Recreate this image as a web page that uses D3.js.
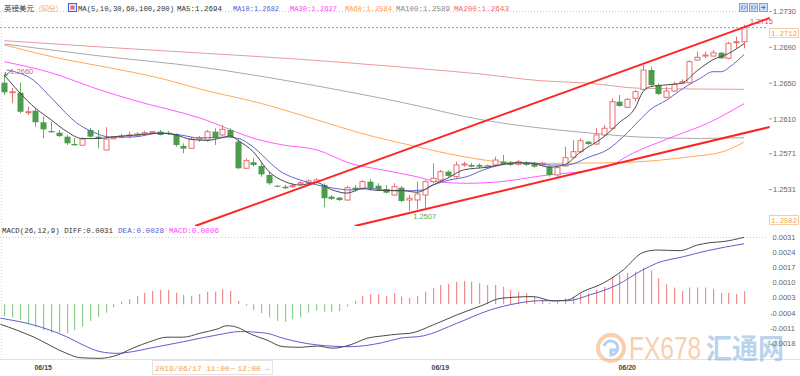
<!DOCTYPE html>
<html>
<head>
<meta charset="utf-8">
<script src="https://cdn.jsdelivr.net/npm/d3@7"></script>
<style>
  body { margin: 0; background: #fff; }
  svg { display: block; }
  .mono { font-family: "Liberation Mono", "DejaVu Sans Mono", monospace; font-size: 7.8px; }
  .axis { font-family: "Liberation Sans", Arial, sans-serif; font-size: 7.5px; fill: #666; }
</style>
</head>
<body>
<svg id="chart" width="800" height="376"></svg>
<script>
// hourly candles GBP/USD, [open, high, low, close]
const ohlc = [
  [1.26504,1.26601,1.26367,1.26397],[1.26397,1.26445,1.26277,1.26403],[1.26392,1.26504,1.26162,1.26180],
  [1.26173,1.26236,1.26143,1.26180],[1.26191,1.26221,1.26013,1.26062],[1.26062,1.26124,1.25883,1.25983],
  [1.25964,1.26069,1.25948,1.25950],[1.25945,1.25976,1.25897,1.25908],[1.25901,1.25920,1.25808,1.25827],
  [1.25819,1.25886,1.25800,1.25805],[1.25805,1.25894,1.25803,1.25875],[1.25976,1.26001,1.25894,1.25901],
  [1.25901,1.25976,1.25771,1.25875],[1.25752,1.26006,1.25750,1.25875],[1.25878,1.25905,1.25870,1.25894],
  [1.25894,1.25931,1.25883,1.25908],[1.25908,1.25957,1.25883,1.25920],[1.25917,1.25950,1.25901,1.25931],
  [1.25931,1.25964,1.25920,1.25945],[1.25945,1.25964,1.25940,1.25957],[1.25957,1.25976,1.25915,1.25920],
  [1.25945,1.25964,1.25920,1.25931],[1.25931,1.25939,1.25789,1.25808],[1.25797,1.25827,1.25715,1.25767],
  [1.25771,1.25897,1.25764,1.25875],[1.25872,1.25908,1.25845,1.25889],[1.25864,1.25976,1.25845,1.25957],
  [1.25957,1.25995,1.25808,1.25883],[1.25920,1.26031,1.25908,1.25983],[1.25976,1.25995,1.25894,1.25901],
  [1.25845,1.25872,1.25537,1.25548],[1.25548,1.25660,1.25540,1.25633],[1.25615,1.25660,1.25566,1.25585],
  [1.25573,1.25603,1.25454,1.25480],[1.25473,1.25510,1.25361,1.25380],[1.25353,1.25360,1.25335,1.25342],
  [1.25342,1.25361,1.25317,1.25324],[1.25342,1.25380,1.25331,1.25353],[1.25372,1.25405,1.25353,1.25386],
  [1.25386,1.25425,1.25380,1.25406],[1.25395,1.25436,1.25380,1.25417],[1.25361,1.25380,1.25112,1.25213],
  [1.25231,1.25249,1.25193,1.25205],[1.25220,1.25227,1.25182,1.25193],[1.25193,1.25353,1.25185,1.25331],
  [1.25331,1.25361,1.25286,1.25305],[1.25324,1.25417,1.25305,1.25398],[1.25398,1.25425,1.25297,1.25324],
  [1.25353,1.25380,1.25297,1.25316],[1.25316,1.25361,1.25268,1.25275],[1.25249,1.25380,1.25238,1.25342],
  [1.25331,1.25350,1.25168,1.25182],[1.25193,1.25249,1.25071,1.25213],[1.25193,1.25398,1.25090,1.25260],
  [1.25249,1.25417,1.25104,1.25398],[1.25398,1.25603,1.25380,1.25436],[1.25417,1.25529,1.25398,1.25510],
  [1.25510,1.25521,1.25451,1.25462],[1.25454,1.25621,1.25436,1.25585],[1.25585,1.25621,1.25566,1.25596],
  [1.25585,1.25607,1.25559,1.25566],[1.25585,1.25603,1.25548,1.25566],[1.25559,1.25590,1.25550,1.25577],
  [1.25585,1.25677,1.25566,1.25640],[1.25621,1.25696,1.25585,1.25596],[1.25610,1.25629,1.25573,1.25585],
  [1.25592,1.25640,1.25580,1.25621],[1.25610,1.25625,1.25575,1.25585],[1.25603,1.25620,1.25555,1.25566],
  [1.25585,1.25620,1.25575,1.25603],[1.25566,1.25585,1.25454,1.25473],[1.25473,1.25566,1.25454,1.25555],
  [1.25573,1.25789,1.25566,1.25666],[1.25670,1.25864,1.25662,1.25733],[1.25733,1.25883,1.25715,1.25856],
  [1.25845,1.25853,1.25808,1.25819],[1.25819,1.25995,1.25808,1.25920],[1.25920,1.26031,1.25901,1.25995],
  [1.25995,1.26330,1.25976,1.26292],[1.26292,1.26367,1.26236,1.26244],[1.26229,1.26330,1.26218,1.26318],
  [1.26330,1.26422,1.26292,1.26404],[1.26430,1.26702,1.26422,1.26646],[1.26646,1.26683,1.26459,1.26478],
  [1.26478,1.26497,1.26367,1.26378],[1.26341,1.26459,1.26330,1.26411],[1.26411,1.26515,1.26403,1.26486],
  [1.26497,1.26542,1.26486,1.26515],[1.26504,1.26758,1.26497,1.26739],[1.26758,1.26850,1.26755,1.26788],
  [1.26802,1.26850,1.26777,1.26814],[1.26802,1.26870,1.26795,1.26839],[1.26839,1.26847,1.26772,1.26777],
  [1.26777,1.26962,1.26765,1.26944],[1.26951,1.27018,1.26888,1.26962],[1.26962,1.27150,1.26888,1.27120]
];

// moving averages, [candle index, price]
const ma5 = [[0,1.2659],[2,1.2639],[4,1.2622],[6,1.2609],[8,1.2596],[10,1.2588],[12,1.2588],[14,1.2590],
  [17,1.2592],[20,1.2594],[22,1.2592],[24,1.2587],[26,1.2586],[28,1.2589],[29,1.2591],[30,1.2586],[32,1.2573],
  [34,1.2551],[36,1.2540],[38,1.2536],[40,1.2539],[42,1.2531],[44,1.2527],[46,1.2532],[48,1.2530],[51,1.2530],
  [53,1.2528],[55,1.2536],[57,1.2544],[59,1.2553],[62,1.2556],[64,1.2559],[66,1.2561],[68,1.2560],[70,1.2556],
  [72,1.2559],[74,1.2573],[77,1.2590],[79,1.2606],[81,1.2622],[82,1.2640],[83,1.2646],[85,1.2648],[87,1.2650],
  [89,1.2664],[91,1.2676],[93,1.2683],[95,1.2694]];
const ma10 = [[0.3,1.26646],[3.7,1.26535],[6.3,1.26311],[9.3,1.26054],[11.4,1.25953],[13.6,1.25897],[16.5,1.25897],
  [20,1.25942],[22.6,1.25920],[25.1,1.25886],[28.6,1.25897],[30.3,1.25875],[31.6,1.25808],[35.8,1.25495],
  [38,1.25417],[40.2,1.25361],[42.2,1.25327],[44.4,1.25305],[46.6,1.25327],[48.6,1.25305],[50.8,1.25294],
  [53.8,1.25305],[55.1,1.25361],[57.2,1.25417],[59.4,1.25454],[61.5,1.25529],[63.7,1.25584],[65.9,1.25607],
  [67.9,1.25607],[70.1,1.25584],[72.2,1.25584],[75.2,1.25677],[77.4,1.25752],[79.5,1.25901],[81.6,1.26087],
  [82.9,1.26199],[85.1,1.26311],[87.2,1.26442],[89.4,1.26554],[91,1.26627],[92.1,1.26627],[93.2,1.26683],[95,1.26820]];
const ma30 = [[0,1.26739],[5.9,1.26618],[12.3,1.26423],[16.5,1.26311],[25.1,1.26110],[32.8,1.25864],[35.8,1.25808],
  [40.2,1.25752],[44.4,1.25603],[48.6,1.25529],[53,1.25453],[55.6,1.25398],[59.4,1.25380],[63.7,1.25398],
  [68.8,1.25461],[77.4,1.25565],[80.7,1.25715],[85.9,1.25901],[90.3,1.26050],[95,1.26270]];
const ma60 = [[0,1.26926],[8.1,1.26758],[12.3,1.26691],[20.9,1.26535],[25.1,1.26434],[32.8,1.26277],[40.2,1.26087],
  [45.7,1.25942],[53,1.25789],[58.5,1.25685],[63.7,1.25621],[70.1,1.25603],[76.5,1.25607],[81.6,1.25621],
  [88.1,1.25677],[92.3,1.25733],[95,1.25840]];
const ma100 = [[0,1.26937],[12.3,1.26803],[25.1,1.26680],[38,1.26501],[50.8,1.26289],[61.5,1.26087],[68.8,1.25998],
  [75.2,1.25942],[81.6,1.25897],[89.4,1.25881],[95,1.25890]];
const ma200 = [[0,1.26974],[12.3,1.26904],[25.1,1.26836],[38,1.26766],[50.8,1.26680],[61.1,1.26602],[68.8,1.26527],
  [75.2,1.26498],[81.6,1.26442],[95,1.26430]];

// hand drawn channel lines, [candle index, price]
const trendUpper = [[24.5,1.24902],[98.3,1.27228]];
const trendLower = [[45.0,1.24902],[98.3,1.26009]];

// MACD(26,12,9)
const macdHist = [-0.00055,-0.00061,-0.00073,-0.00089,-0.00104,-0.00120,-0.00132,-0.00132,-0.00135,-0.00120,
  -0.00104,-0.00077,-0.00058,-0.00039,-0.00014,0.00012,0.00023,0.00038,0.00053,0.00061,
  0.00066,0.00066,0.00053,0.00043,0.00038,0.00047,0.00058,0.00058,0.00069,0.00061,
  0.00015,-0.00008,-0.00027,-0.00042,-0.00061,-0.00077,-0.00081,-0.00070,-0.00061,-0.00039,
  -0.00030,-0.00035,-0.00035,-0.00032,-0.00012,0.00015,0.00038,0.00046,0.00046,0.00038,
  0.00051,0.00035,0.00030,0.00038,0.00058,0.00074,0.00089,0.00094,0.00104,0.00108,
  0.00104,0.00097,0.00089,0.00089,0.00081,0.00066,0.00058,0.00051,0.00035,0.00019,
  0.00007,0.00012,0.00027,0.00035,0.00047,0.00051,0.00066,0.00081,0.00128,0.00139,
  0.00146,0.00151,0.00167,0.00155,0.00120,0.00092,0.00077,0.00061,0.00077,0.00078,
  0.00077,0.00069,0.00051,0.00053,0.00047,0.00060];
const diffLine = [[-0.5,-0.00093],[3.7,-0.00151],[8,-0.00228],[9.7,-0.00248],[12.3,-0.00251],[14.5,-0.00236],
  [16.5,-0.00204],[18.7,-0.00174],[20.9,-0.00153],[23,-0.00153],[25.1,-0.00135],[27.3,-0.00116],[28.6,-0.00100],
  [29.9,-0.00107],[31.6,-0.00138],[33.7,-0.00166],[35.8,-0.00197],[38,-0.00200],[40.2,-0.00194],[42.2,-0.00204],
  [44.4,-0.00189],[46.6,-0.00158],[48.6,-0.00147],[50.8,-0.00138],[52.1,-0.00135],[55.1,-0.00096],[58.1,-0.00050],
  [61.5,-0.00004],[63.7,0.00027],[67.9,0.00035],[70.5,0.00015],[72.3,0.00019],[74.3,0.00058],[76.9,0.00097],
  [79.5,0.00159],[82,0.00239],[83.8,0.00251],[86.8,0.00248],[89,0.00274],[90.6,0.00285],[92.3,0.00290],[95,0.00310]];
const deaLine = [[-0.5,-0.00065],[3.7,-0.00096],[8,-0.00151],[10.1,-0.00189],[12.3,-0.00220],[14.5,-0.00228],
  [16.5,-0.00220],[18.7,-0.00204],[23,-0.00174],[27.3,-0.00143],[30.3,-0.00127],[33.7,-0.00135],[35.8,-0.00158],
  [40.2,-0.00189],[44.4,-0.00197],[48.6,-0.00178],[50.8,-0.00158],[53.8,-0.00147],[58.1,-0.00089],[62.4,-0.00027],
  [65.9,0.00004],[68.8,0.00016],[72.3,0.00016],[75.2,0.00043],[78.7,0.00089],[82,0.00159],[83.8,0.00190],
  [87.2,0.00220],[90.3,0.00248],[95,0.00280]];

const priceTicks = [1.2730, 1.2690, 1.2650, 1.2610, 1.2571, 1.2531];
const macdTicks = [0.0031, 0.0024, 0.0017, 0.0010, 0.0003, -0.0004, -0.0011, -0.0018];
const dateIdx = [5, 56, 80];
const dateText = ['06/15', '06/19', '06/20'];

const lastPrice = 1.2712;
const lowPrice = 1.2502;

const svg = d3.select('#chart');
const x = d3.scaleLinear().domain([0, 95]).range([4.3, 744]);
const y = d3.scaleLinear().domain([1.2502, 1.2730]).range([215.5, 11.5]);
const ym = d3.scaleLinear().domain([-0.0018, 0.0031]).range([343, 237.3]);

const upColor = '#e86f6f';
const downColor = '#4c9c4c';

svg.append('defs').append('clipPath').attr('id', 'priceClip')
  .append('rect').attr('x', 0).attr('y', 10).attr('width', 772).attr('height', 216);

// panel borders (dotted)
svg.append('line').attr('x1', 0).attr('x2', 768).attr('y1', 11.5).attr('y2', 11.5)
  .attr('stroke', '#ccc').attr('stroke-dasharray', '1,2');
svg.append('line').attr('x1', 0).attr('x2', 768).attr('y1', 237.5).attr('y2', 237.5)
  .attr('stroke', '#ccc').attr('stroke-dasharray', '1,2');
svg.append('line').attr('x1', 1.5).attr('x2', 1.5).attr('y1', 12).attr('y2', 359)
  .attr('stroke', '#ddd').attr('stroke-dasharray', '1,2');
svg.append('line').attr('x1', 0).attr('x2', 800).attr('y1', 359.5).attr('y2', 359.5)
  .attr('stroke', '#e2e2e2');

// current price line
svg.append('line').attr('x1', 0).attr('x2', 768).attr('y1', y(lastPrice)).attr('y2', y(lastPrice))
  .attr('stroke', '#6aa6ee').attr('stroke-dasharray', '2,2');

const gPrice = svg.append('g').attr('clip-path', 'url(#priceClip)');

const maLine = d3.line().x(d => x(d[0])).y(d => y(d[1])).curve(d3.curveMonotoneX);
const maSeries = [
  { data: ma200, color: '#eb9a9a' },
  { data: ma100, color: '#aaaaaa' },
  { data: ma60, color: '#ffaa5a' },
  { data: ma30, color: '#ff5cff' }
];
gPrice.selectAll('path.ma-slow').data(maSeries).join('path')
  .attr('class', 'ma-slow')
  .attr('d', d => maLine(d.data))
  .attr('fill', 'none').attr('stroke', d => d.color).attr('stroke-width', 1);

// candles
const candle = gPrice.selectAll('g.candle').data(ohlc).join('g').attr('class', 'candle');
candle.append('line')
  .attr('x1', (d, i) => Math.round(x(i)) + 0.5).attr('x2', (d, i) => Math.round(x(i)) + 0.5)
  .attr('y1', d => y(d[1])).attr('y2', d => y(d[2]))
  .attr('stroke', d => d[3] >= d[0] ? upColor : '#6aaa6a');
candle.append('rect')
  .attr('x', (d, i) => d[3] >= d[0] ? Math.round(x(i)) - 2 : Math.round(x(i)) - 2.5)
  .attr('y', d => y(Math.max(d[0], d[3])))
  .attr('width', d => d[3] >= d[0] ? 5 : 6)
  .attr('height', d => Math.max(1, Math.abs(y(d[0]) - y(d[3]))))
  .attr('fill', d => d[3] >= d[0] ? '#fff' : downColor)
  .attr('stroke', d => d[3] >= d[0] ? upColor : 'none');

const fastSeries = [
  { data: ma10, color: '#6464d2' },
  { data: ma5, color: '#4a4a4a' }
];
gPrice.selectAll('path.ma-fast').data(fastSeries).join('path')
  .attr('class', 'ma-fast')
  .attr('d', d => maLine(d.data))
  .attr('fill', 'none').attr('stroke', d => d.color).attr('stroke-width', 1);

// channel lines
const trendLine = d3.line().x(d => x(d[0])).y(d => y(d[1]));
gPrice.selectAll('path.trend').data([trendUpper, trendLower]).join('path')
  .attr('class', 'trend')
  .attr('d', trendLine)
  .attr('fill', 'none').attr('stroke', '#ff2424').attr('stroke-width', 2);

// high / low marks
const hiIdx = 0, lowIdx = 52;
svg.append('text').attr('class', 'axis').attr('x', x(hiIdx) + 6).attr('y', y(ohlc[hiIdx][1]) - 0.5)
  .style('fill', '#ee5a5a').text(ohlc[hiIdx][1].toFixed(4));
svg.append('path')
  .attr('d', `M${x(hiIdx) + 7},${y(ohlc[hiIdx][1]) - 3} L${x(hiIdx) + 1},${y(ohlc[hiIdx][1]) + 1} M${x(hiIdx) + 1},${y(ohlc[hiIdx][1]) + 1} l3,0 M${x(hiIdx) + 1},${y(ohlc[hiIdx][1]) + 1} l0,-3`)
  .attr('stroke', '#555').attr('fill', 'none').attr('stroke-width', 0.8);
svg.append('text').attr('class', 'axis').attr('x', x(lowIdx) + 4).attr('y', y(ohlc[lowIdx][2]) + 8.5)
  .style('fill', '#5aa85a').text(ohlc[lowIdx][2].toFixed(4));
svg.append('text').attr('class', 'axis').attr('x', x(95) + 6).attr('y', y(ohlc[95][1]) - 0.5)
  .style('fill', '#ee4a4a').text(ohlc[95][1].toFixed(4));

// price axis
const pa = svg.append('g');
pa.selectAll('line').data(priceTicks).join('line')
  .attr('x1', 769).attr('x2', 772).attr('y1', d => y(d)).attr('y2', d => y(d)).attr('stroke', '#999');
pa.selectAll('text').data(priceTicks).join('text')
  .attr('class', 'axis').attr('x', 773).attr('y', d => y(d) + 2.7).text(d => d.toFixed(4));

// boxed price tags
[lastPrice, lowPrice].forEach(v => {
  const top = v === lastPrice ? y(v) + 1 : y(v);
  svg.append('rect').attr('x', 769.5).attr('y', top).attr('width', 29).attr('height', 9)
    .attr('fill', '#fff').attr('stroke', '#f3c08e').attr('stroke-width', 0.8);
  svg.append('text').attr('class', 'mono').attr('x', 771).attr('y', top + 7)
    .attr('textLength', 26).attr('lengthAdjust', 'spacingAndGlyphs')
    .style('fill', '#f0a040').style('font-size', '7.2px').text(v.toFixed(4));
});

// legend
const legend = [
  { x: 4, w: 30, t: '英镑美元', c: '#333', cjk: true },
  { x: 35, w: 27, t: '〈60分〉', c: '#f0a040', cjk: true },
  { x: 78, w: 96, t: 'MA(5,10,30,60,100,200)', c: '#333' },
  { x: 177, w: 45, t: 'MA5:1.2694', c: '#333' },
  { x: 233, w: 46, t: 'MA10:1.2682', c: '#5a5ad0' },
  { x: 290, w: 47, t: 'MA30:1.2627', c: '#ff44ff' },
  { x: 345, w: 47, t: 'MA60:1.2584', c: '#ffa040' },
  { x: 396, w: 54, t: 'MA100:1.2589', c: '#888' },
  { x: 454, w: 55, t: 'MA200:1.2643', c: '#f06868' }
];
svg.selectAll('text.leg').data(legend).join('text')
  .attr('class', 'leg mono').attr('x', d => d.x).attr('y', 11)
  .attr('textLength', d => d.w).attr('lengthAdjust', 'spacingAndGlyphs')
  .style('fill', d => d.c)
  .style('font-family', d => d.cjk ? '"Noto Sans CJK SC", sans-serif' : null)
  .style('font-size', d => d.cjk ? '7.3px' : null)
  .text(d => d.t);
svg.append('rect').attr('x', 68.5).attr('y', 3.5).attr('width', 8).attr('height', 8)
  .attr('fill', '#e8ecff').attr('stroke', '#4466cc');
svg.append('rect').attr('x', 70.5).attr('y', 5.5).attr('width', 4).attr('height', 4)
  .attr('fill', '#ee6677');

// toolbar buttons
[739, 749, 759].forEach((bx, k) => {
  svg.append('rect').attr('x', bx + 0.5).attr('y', 3.5).attr('width', 8).attr('height', 8)
    .attr('fill', '#cfe0f8').attr('stroke', '#7aa6dc');
  svg.append('path')
    .attr('d', k === 2 ? `M${bx + 2},7.5 h4 m-2,-2 l2,2 l-2,2` : `M${bx + 3},5.5 v4 m2,-4 l2,2 l-2,2`)
    .attr('stroke', '#3a6fb8').attr('fill', 'none').attr('stroke-width', 0.9);
});

// MACD legend
const macdLegend = [
  { x: 2, w: 111, t: 'MACD(26,12,9) DIFF:0.0031', c: '#333' },
  { x: 118, w: 46, t: 'DEA:0.0028', c: '#5a5ad0' },
  { x: 169, w: 50, t: 'MACD:0.0006', c: '#ff44ff' }
];
svg.selectAll('text.mleg').data(macdLegend).join('text')
  .attr('class', 'mleg mono').attr('x', d => d.x).attr('y', 233)
  .attr('textLength', d => d.w).attr('lengthAdjust', 'spacingAndGlyphs')
  .style('fill', d => d.c).text(d => d.t);

// MACD histogram
svg.append('g').selectAll('rect').data(macdHist).join('rect')
  .attr('x', (d, i) => Math.round(x(i)))
  .attr('width', 1.2)
  .attr('y', d => d >= 0 ? ym(d) : ym(0))
  .attr('height', d => Math.abs(ym(d) - ym(0)))
  .attr('fill', d => d >= 0 ? '#f08c8c' : '#8ccc8c');

const macdPath = d3.line().x(d => x(d[0])).y(d => ym(d[1])).curve(d3.curveMonotoneX);
svg.append('path').attr('d', macdPath(deaLine)).attr('fill', 'none').attr('stroke', '#5e5ed0');
svg.append('path').attr('d', macdPath(diffLine)).attr('fill', 'none').attr('stroke', '#4a4a4a');

// watermark, under the axis labels
const wm = svg.append('g').attr('opacity', 0.5);
wm.append('circle').attr('cx', 611).attr('cy', 348).attr('r', 13)
  .attr('fill', 'none').attr('stroke', '#f4a060').attr('stroke-width', 4);
wm.append('path').attr('d', 'M604,346 a7,7 0 1,1 7,9 l0,-5 l5,0')
  .attr('fill', 'none').attr('stroke', '#6fa0dc').attr('stroke-width', 3);
wm.append('text').attr('transform', 'translate(629,359) scale(1,1.3)')
  .style('font-family', '"Liberation Sans", Arial, sans-serif').style('font-size', '24.5px')
  .style('fill', '#f4a060').text('FX678');
wm.append('text').attr('transform', 'translate(706,359) scale(1,1.1)')
  .style('font-family', '"Noto Sans CJK SC", sans-serif').style('font-size', '26px').style('font-weight', 'bold')
  .style('fill', '#7aa8dc').text('汇通网');

// MACD axis
svg.append('g').selectAll('text').data(macdTicks).join('text')
  .attr('class', 'axis').attr('x', d => d < 0 ? 770 : 772.5).attr('y', d => ym(d) + 2.7)
  .text(d => d.toFixed(4));

// date axis
svg.append('g').selectAll('text').data(dateIdx).join('text')
  .attr('class', 'axis').attr('x', d => x(d)).attr('y', 370)
  .attr('text-anchor', 'middle').style('fill', '#444').style('font-weight', 'bold').style('font-size', '7px')
  .text((d, i) => dateText[i]);

// crosshair time tag
svg.append('rect').attr('x', 152.5).attr('y', 360.5).attr('width', 120).attr('height', 14)
  .attr('fill', '#fff').attr('stroke', '#e4e4e4');
svg.append('text').attr('class', 'mono').attr('x', 155).attr('y', 370.5)
  .attr('textLength', 115).attr('lengthAdjust', 'spacingAndGlyphs')
  .style('fill', '#f4a24a').style('font-size', '7.8px').text('2019/06/17 11:00～12:00 —');
</script>
</body>
</html>
